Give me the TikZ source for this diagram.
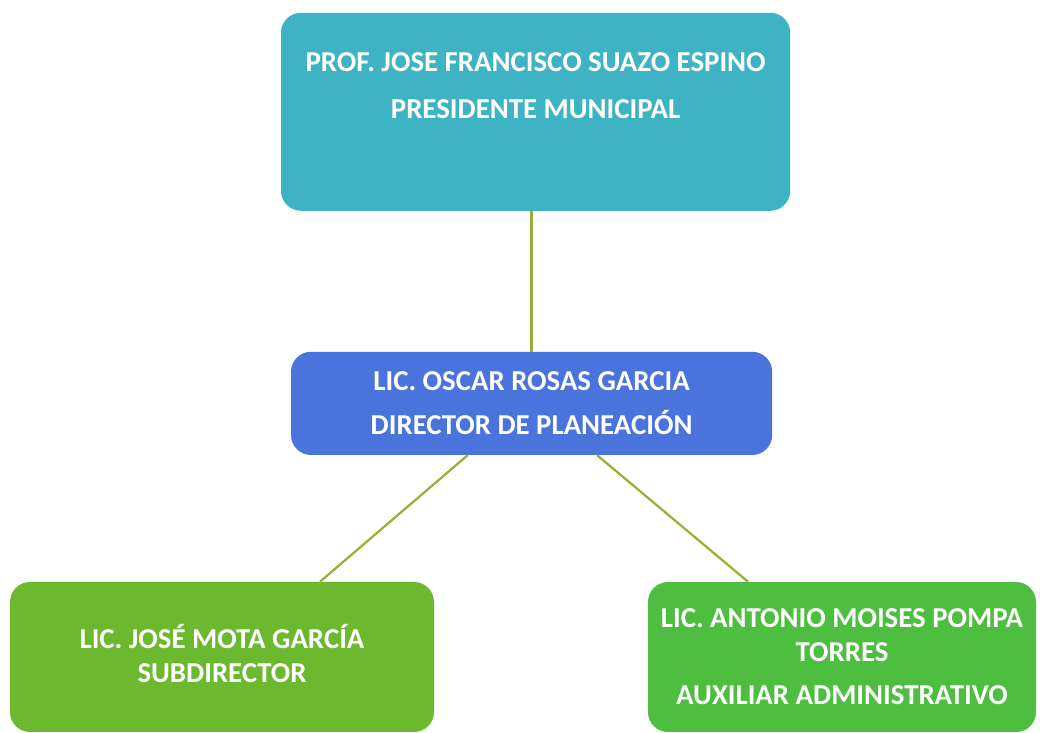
\documentclass[tikz,border=0pt]{standalone}
\usepackage{fontspec}
\setmainfont{Carlito}
\usepackage{xcolor}
\usetikzlibrary{positioning,calc}

\definecolor{presblue}{HTML}{3DB3C3}
\definecolor{dirblue}{HTML}{4A73DB}
\definecolor{subgreen}{HTML}{6CB82F}
\definecolor{auxgreen}{HTML}{4DBE40}
\definecolor{linkgreen}{HTML}{9DAE35}

\begin{document}
\begin{tikzpicture}[auto,
    box/.style={rectangle, rounded corners=0.5cm, text=white, align=center, font=\fontsize{20.5}{24}\selectfont\bfseries, inner sep=0pt},
    link/.style={draw=linkgreen, line width=1.6pt}]
    \useasboundingbox (0,0) rectangle (26,18.325);

    % Boxes
    \node [box, fill=presblue, minimum width=12.73cm, minimum height=4.95cm] (pres) at (13.39,15.53) {};
    \node [white, font=\fontsize{20.5}{24}\selectfont\bfseries, align=center] (prestext) at ($(pres.center)+(0,0.65)$) {PROF. JOSE FRANCISCO SUAZO ESPINO\\[0.32cm] PRESIDENTE MUNICIPAL};
    \node [box, fill=dirblue, minimum width=12.03cm, minimum height=2.58cm] (dir) at (13.29,8.24) {LIC. OSCAR ROSAS GARCIA\\[0.26cm] DIRECTOR DE PLANEACIÓN};
    \node [box, fill=subgreen, minimum width=10.6cm, minimum height=3.75cm] (sub) at (5.55,1.90) {};
    \node [white, font=\fontsize{20.5}{24}\selectfont\bfseries, align=center] (subtext) at ($(sub.center)+(0,0.08)$) {LIC. JOSÉ MOTA GARCÍA\\ SUBDIRECTOR};
    \node [box, fill=auxgreen, minimum width=9.7cm, minimum height=3.75cm] (aux) at (21.05,1.90) {LIC. ANTONIO MOISES POMPA\\ TORRES\\[0.24cm] AUXILIAR ADMINISTRATIVO};

    % Connections
    \draw [link] (pres.south -| dir.north) -- (dir.north);
    \draw [link] ([xshift=-1.6cm]dir.south) -- ([xshift=2.45cm]sub.north);
    \draw [link] ([xshift=1.64cm]dir.south) -- ([xshift=-2.35cm]aux.north);

\end{tikzpicture}
\end{document}
